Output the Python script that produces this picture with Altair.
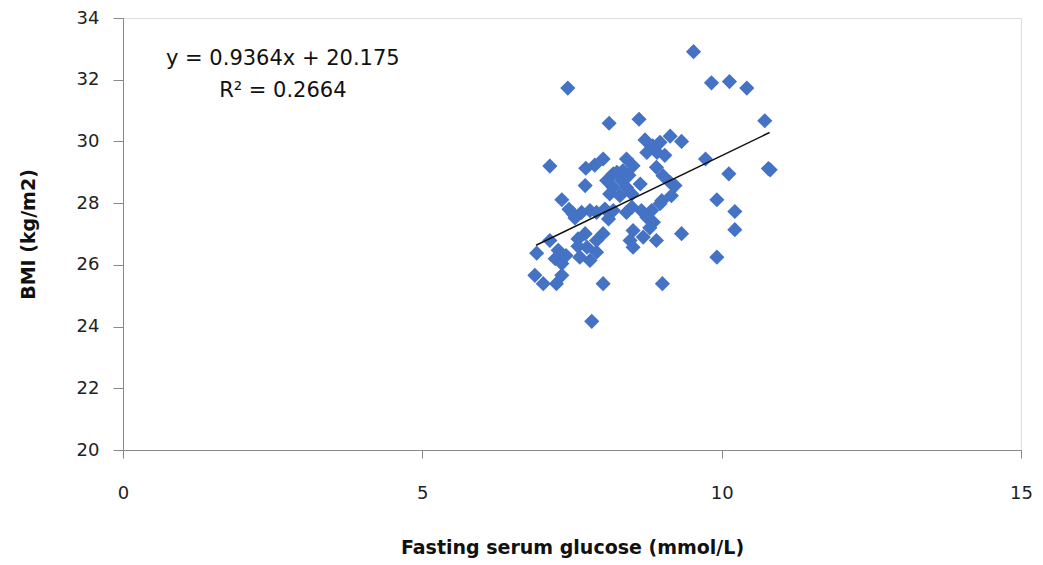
import altair as alt
import pandas as pd

# Scatter data (fasting glucose mmol/L, BMI kg/m2)
glucose = [9.53, 7.43, 9.83, 10.13, 10.42, 8.12, 8.62, 10.72, 8.72, 9.14,
           9.33, 8.85, 8.97, 8.75, 8.92, 7.13, 7.73, 8.02, 7.88, 8.41,
           8.52, 8.91, 9.73, 10.12, 10.81, 10.78, 8.19, 8.08, 8.33, 8.19,
           8.41, 8.13, 8.30, 8.50, 8.64, 9.02, 9.14, 9.22, 9.00, 9.16,
           7.72, 7.33, 9.92, 10.22, 10.22, 8.41, 8.11, 7.52, 7.66, 7.80,
           7.91, 8.66, 8.75, 8.86, 9.33, 9.92, 6.91, 7.13, 7.27, 7.22,
           7.33, 7.60, 7.72, 8.02, 7.91, 7.63, 7.80, 7.91, 7.75, 8.52,
           8.47, 8.52, 8.69, 8.91, 6.88, 7.02, 7.24, 7.33, 8.02, 9.01,
           7.83, 8.05, 8.19, 8.50, 8.83, 8.97, 7.55, 8.80, 7.40, 7.60,
           8.25, 8.45, 8.35, 7.45, 9.05]
bmi = [32.91, 31.73, 31.90, 31.94, 31.73, 30.59, 30.72, 30.67, 30.05, 30.17,
       30.00, 29.86, 29.97, 29.64, 29.64, 29.20, 29.13, 29.43, 29.23, 29.43,
       29.21, 29.16, 29.43, 28.95, 29.08, 29.12, 28.95, 28.73, 28.73, 28.51,
       28.51, 28.30, 28.24, 28.30, 28.62, 28.89, 28.67, 28.57, 28.08, 28.24,
       28.57, 28.11, 28.11, 27.73, 27.14, 27.70, 27.49, 27.65, 27.70, 27.76,
       27.70, 27.76, 27.54, 27.38, 27.01, 26.25, 26.38, 26.79, 26.47, 26.20,
       26.04, 26.84, 27.01, 27.01, 26.79, 26.25, 26.14, 26.41, 26.57, 27.11,
       26.79, 26.57, 26.90, 26.79, 25.66, 25.39, 25.39, 25.66, 25.39, 25.39,
       24.17, 27.81, 27.76, 27.87, 27.76, 27.98, 27.52, 27.20, 26.30, 26.60,
       29.00, 28.90, 29.05, 27.80, 29.55]

# Trendline as printed on the chart
slope = 0.9364
intercept = 20.175
trend_x = [6.9, 10.8]

eq_lines = ["y = 0.9364x + 20.175", "R\u00b2 = 0.2664"]
eq_x = [2.67, 2.67]
eq_y = [32.67, 31.62]

x_ticks = [0, 5, 10, 15]
y_ticks = [20, 22, 24, 26, 28, 30, 32, 34]

pts = pd.DataFrame({"glucose": glucose, "bmi": bmi})
trend = pd.DataFrame({"glucose": trend_x,
                      "bmi": [slope * v + intercept for v in trend_x]})
eq = pd.DataFrame({"label": eq_lines, "x": eq_x, "y": eq_y})

FONT = "DejaVu Sans"
xscale = alt.Scale(domain=[0, 15], nice=False, zero=False)
yscale = alt.Scale(domain=[20, 34], nice=False, zero=False)

xaxis = alt.Axis(values=x_ticks, format="d", title="Fasting serum glucose (mmol/L)",
                 grid=False, labelFontSize=18, labelFont=FONT, labelColor="#222222",
                 labelPadding=26, labelFlush=False, tickSize=8, tickColor="#888888",
                 domainColor="#888888", titleFont=FONT, titleFontSize=19,
                 titleFontWeight="bold", titleColor="#111111", titlePadding=36)
yaxis = alt.Axis(values=y_ticks, format="d", title="BMI (kg/m2)", grid=False,
                 labelFontSize=18, labelFont=FONT, labelColor="#222222",
                 labelPadding=14, labelFlush=False, tickSize=10, tickColor="#888888",
                 domainColor="#888888", titleFont=FONT, titleFontSize=19,
                 titleFontWeight="bold", titleColor="#111111", titlePadding=38)

points = alt.Chart(pts).mark_point(shape="diamond", filled=True, size=230,
                                   color="#4472C4", opacity=1).encode(
    x=alt.X("glucose:Q", scale=xscale, axis=xaxis),
    y=alt.Y("bmi:Q", scale=yscale, axis=yaxis),
)

line = alt.Chart(trend).mark_line(color="#111111", strokeWidth=1.5).encode(
    x=alt.X("glucose:Q", scale=xscale),
    y=alt.Y("bmi:Q", scale=yscale),
)

text = alt.Chart(eq).mark_text(font=FONT, fontSize=21, color="#111111",
                               align="center", baseline="middle").encode(
    x=alt.X("x:Q", scale=xscale),
    y=alt.Y("y:Q", scale=yscale),
    text="label:N",
)

chart = alt.layer(points, line, text).properties(
    width=898, height=432,
    autosize=alt.AutoSizeParams(type="none"),
    padding={"left": 115, "top": 10, "right": 14, "bottom": 108},
).configure_view(stroke=None).configure(background="white")

chart.save("out.html", embed_options={"renderer": "svg", "actions": False})
